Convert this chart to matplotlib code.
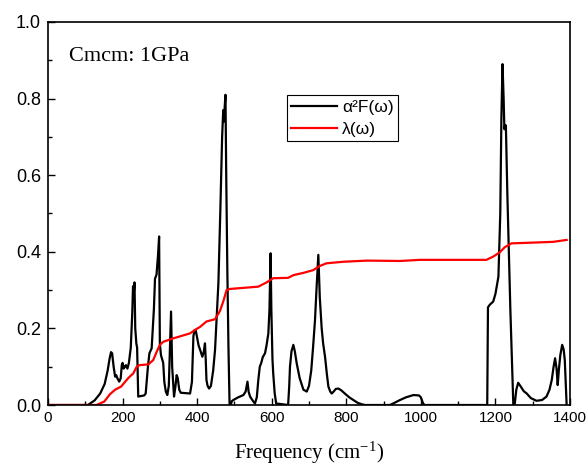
import matplotlib
matplotlib.use('Agg')
import matplotlib.pyplot as plt
from matplotlib.ticker import MultipleLocator

## style
plt.rcParams['font.family'] = ['Liberation Sans', 'DejaVu Sans']
plt.rcParams['mathtext.fontset'] = 'custom'
plt.rcParams['mathtext.rm'] = 'Liberation Serif'
plt.rcParams['mathtext.it'] = 'Liberation Serif:italic'
plt.rcParams['mathtext.default'] = 'regular'

## data
# alpha^2 F(omega)
freq_a2f = [0, 107, 125, 140, 152, 160, 165, 169, 172, 176, 180, 183, 186, 191, 195, 198, 200, 203,
            206, 209, 213, 217, 222, 226, 228, 230, 232, 234, 237, 239, 242, 258, 262, 268, 272, 278,
            284, 287, 291, 295, 298, 300, 303, 306, 309, 312, 316, 320, 324, 327, 330, 333, 338, 342,
            345, 348, 352, 356, 381, 386, 390, 393, 396, 400, 404, 408, 414, 418, 421, 423, 425, 428,
            432, 437, 443, 448, 452, 457, 462, 467, 470, 472, 474, 476, 478, 481, 484, 487, 490, 493,
            497, 510, 524, 530, 535, 538, 542, 550, 555, 560, 564, 568, 572, 576, 582, 586, 591, 594,
            597, 599, 602, 604, 608, 612, 644, 647, 649, 653, 658, 662, 667, 675, 685, 694, 700, 706,
            711, 716, 720, 725, 729, 734, 738, 743, 748, 752, 757, 761, 766, 772, 779, 787, 796, 808,
            819, 830, 841, 850, 917, 930, 944, 960, 980, 995, 1000, 1006, 1010, 1178, 1180, 1185, 1194,
            1200, 1208, 1213, 1216, 1219, 1222, 1224, 1226, 1228, 1232, 1240, 1248, 1252, 1256, 1261,
            1268, 1276, 1284, 1295, 1310, 1325, 1337, 1345, 1351, 1356, 1360, 1364, 1367, 1370, 1374,
            1379, 1383, 1386, 1389, 1391]
a2f = [0, 0, 0.012, 0.03, 0.055, 0.09, 0.12, 0.138, 0.135, 0.1, 0.074, 0.078, 0.07, 0.061, 0.07,
       0.105, 0.11, 0.095, 0.1, 0.104, 0.095, 0.11, 0.15, 0.24, 0.31, 0.29, 0.32, 0.2, 0.16, 0.15,
       0.022, 0.025, 0.03, 0.1, 0.135, 0.148, 0.25, 0.33, 0.34, 0.39, 0.44, 0.16, 0.13, 0.12, 0.11,
       0.06, 0.035, 0.026, 0.05, 0.15, 0.244, 0.1, 0.022, 0.05, 0.078, 0.07, 0.04, 0.032, 0.03, 0.06,
       0.18, 0.195, 0.196, 0.175, 0.155, 0.144, 0.126, 0.14, 0.161, 0.12, 0.065, 0.05, 0.043, 0.05,
       0.09, 0.144, 0.22, 0.318, 0.5, 0.7, 0.77, 0.74, 0.78, 0.81, 0.6, 0.35, 0.15, 0.0, 0.0, 0.01,
       0.013, 0.02, 0.026, 0.035, 0.061, 0.035, 0.022, 0.01, 0.004, 0.02, 0.065, 0.1, 0.11, 0.125,
       0.135, 0.155, 0.187, 0.25, 0.396, 0.25, 0.12, 0.083, 0.03, 0.004, 0, 0.05, 0.1, 0.14, 0.157,
       0.14, 0.109, 0.07, 0.04, 0.035, 0.05, 0.09, 0.152, 0.22, 0.3, 0.392, 0.28, 0.2, 0.16, 0.126,
       0.08, 0.048, 0.035, 0.03, 0.035, 0.042, 0.043, 0.038, 0.03, 0.02, 0.013, 0.006, 0.002, 0, 0,
       0.006, 0.013, 0.02, 0.026, 0.025, 0.02, 0.004, 0, 0, 0.255, 0.262, 0.27, 0.29, 0.335, 0.5,
       0.75, 0.89, 0.8, 0.72, 0.73, 0.73, 0.55, 0.25, 0.0, 0.004, 0.04, 0.058, 0.048, 0.036, 0.03,
       0.018, 0.011, 0.013, 0.022, 0.04, 0.065, 0.1, 0.122, 0.095, 0.052, 0.09, 0.13, 0.157, 0.145,
       0.117, 0.05, 0.0]
# lambda(omega)
freq_lam = [0, 130, 151, 166, 180, 196, 215, 229, 238, 245, 269, 282, 292, 300, 309, 336, 381, 394,
            408, 425, 448, 461, 470, 479, 488, 564, 586, 604, 644, 658, 685, 711, 729, 747, 792, 855,
            944, 998, 1176, 1195, 1212, 1225, 1243, 1301, 1355, 1391]
lam = [0, 0, 0.009, 0.028, 0.04, 0.048, 0.07, 0.083, 0.1, 0.104, 0.106, 0.117, 0.14, 0.157, 0.165,
       0.174, 0.187, 0.196, 0.204, 0.218, 0.224, 0.245, 0.27, 0.30, 0.303, 0.309, 0.32, 0.331, 0.332,
       0.339, 0.345, 0.352, 0.363, 0.37, 0.374, 0.377, 0.376, 0.379, 0.379, 0.388, 0.399, 0.412,
       0.422, 0.424, 0.426, 0.431]

labels = ['\u03b1\u00b2F(\u03c9)', '\u03bb(\u03c9)']

## plot
fig = plt.figure(figsize=(5.88, 4.70), dpi=100)
ax = fig.add_axes([48/588, 1-405/470, 522/588, 383/470])

ax.plot(freq_a2f, a2f, color='k', lw=1.6, label=labels[0])
ax.plot(freq_lam, lam, color='red', lw=1.6, label=labels[1])

ax.set_xlim(0, 1400)
ax.set_ylim(0, 1.0)
ax.xaxis.set_major_locator(MultipleLocator(200))
ax.xaxis.set_minor_locator(MultipleLocator(100))
ax.yaxis.set_major_locator(MultipleLocator(0.2))
ax.yaxis.set_minor_locator(MultipleLocator(0.1))
ax.yaxis.set_major_formatter(matplotlib.ticker.FormatStrFormatter('%.1f'))
ax.tick_params(which='both', direction='in', top=False, right=False, width=1.0)
ax.tick_params(which='major', length=5)
ax.tick_params(which='minor', length=3)
ax.tick_params(axis='x', labelsize=11, pad=4)
ax.tick_params(axis='y', labelsize=13, pad=5)
for sp in ax.spines.values():
	sp.set_linewidth(1.2)

ax.set_xlabel('Frequency (cm$^{-1}$)', family='Liberation Serif', fontsize=15, labelpad=11)
ax.text(0.04, 0.935, 'Cmcm: 1GPa', transform=ax.transAxes, family='Liberation Serif',
	fontsize=16, va='top', ha='left')

leg = ax.legend(loc='upper left', bbox_to_anchor=(0.458, 0.809), borderaxespad=0,
	fontsize=12.5, handlelength=2.6, handletextpad=0.3, borderpad=0.25, labelspacing=0.4,
	fancybox=False, framealpha=1, edgecolor='k')
leg.get_frame().set_linewidth(0.8)

fig.savefig('out.png', dpi=100)
